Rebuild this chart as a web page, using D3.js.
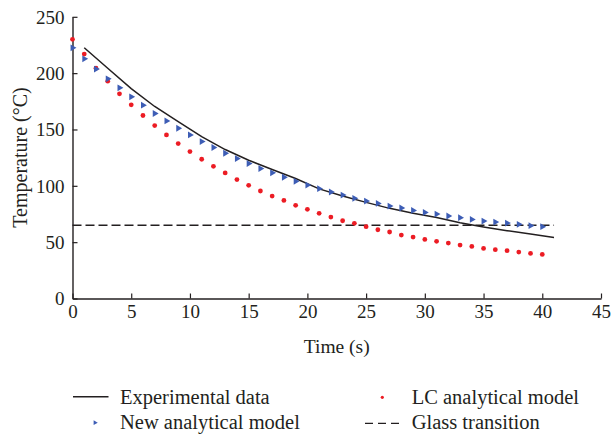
<!DOCTYPE html>
<html><head><meta charset="utf-8">
<script src="https://cdn.jsdelivr.net/npm/d3@7"></script>
<style>
html,body{margin:0;padding:0;background:#fff;}
svg text{font-family:"Liberation Serif","Tinos","DejaVu Serif",serif !important;fill:#231f20;}
</style></head>
<body><svg id="c" width="612" height="437"></svg>
<script>
// ---- data ----
const modelTime = d3.range(0, 41); // 0..40 s
const lcModel = [230,216.9,204.4,192.9,181.6,171.9,162.4,153.5,145.2,137.5,130.4,123.6,117.3,111.4,105.5,100.4,95.4,90.9,87,82.7,79.1,75.6,72.3,69,66.7,63.7,61,59,56.3,54.5,52.4,50.7,49.2,47.4,46.2,44.4,43.3,42.4,41.2,40,39.1];
const newModel = [222.5,212.7,203.6,195,187,179,171.6,164.2,157.6,151.1,145.2,139.3,134,128.9,124.2,119.7,115.3,111.5,107.6,104,100.7,97.5,94.5,91.8,88.9,86.5,84.4,82,80.3,78.2,76.4,74.9,73.2,71.7,70.2,68.7,67.8,66.9,65.8,64.6,63.7];
const expTime = [1,3,5,7,9,11,13,15,17,19,21,23,25,27,29,31,33,35,37,39,41];
const expData = [222.5,204.3,186.3,170.4,157,143.6,132.2,122.7,114.5,106.5,97.3,91,85.3,80,75.6,71.9,67.2,63.5,60.2,57.2,54.2];
const glassTime = [0,41];
const glassTemp = [65,65];
const xTicks = [0,5,10,15,20,25,30,35,40,45];
const yTicks = [0,50,100,150,200,250];
const xTitle = "Time (s)";
const yTitle = "Temperature (\u00B0C)";
const legendLabels = ["Experimental data","New analytical model","LC analytical model","Glass transition"];

const RED = "#ec1c24", BLUE = "#3d5db5";
const FONT = "'Liberation Serif','Tinos','DejaVu Serif',serif";
const svg = d3.select("#c");
const x = d3.scaleLinear().domain([0,45]).range([72.5,601]);
const y = d3.scaleLinear().domain([0,250]).range([298.5,16.8]);

// axes
const gx = svg.append("g").attr("transform",`translate(0,${y(0)})`)
  .call(d3.axisBottom(x).tickValues(xTicks).tickSizeInner(-5).tickSizeOuter(0).tickPadding(7));
const gy = svg.append("g").attr("transform",`translate(${x(0)},0)`)
  .call(d3.axisLeft(y).tickValues(yTicks).tickSizeInner(-5).tickSizeOuter(0).tickPadding(8));
[gx,gy].forEach(g=>{
  g.attr("font-family",FONT);
  g.select(".domain").attr("stroke","#231f20").attr("stroke-width",1.4);
  g.selectAll(".tick line").attr("stroke","#231f20").attr("stroke-width",1.2);
  g.selectAll(".tick text").attr("font-size",19).attr("fill","#231f20");
});
gy.selectAll(".tick text").attr("dy","0.34em");
gx.selectAll(".tick text").attr("dy","0.68em");

// titles
svg.append("text").attr("x",(x(0)+x(45))/2).attr("y",353).attr("text-anchor","middle")
  .attr("font-family",FONT).attr("font-size",19.5).text(xTitle);
svg.append("text").attr("transform","translate(27,157.5) rotate(-90)").attr("text-anchor","middle")
  .attr("font-family",FONT).attr("font-size",20).text(yTitle);

// glass transition
svg.append("path").datum(glassTime.map((t,i)=>[t,glassTemp[i]]))
  .attr("d",d3.line().x(d=>x(d[0])).y(d=>y(d[1])))
  .attr("fill","none").attr("stroke","#231f20").attr("stroke-width",1.3).attr("stroke-dasharray","9,4");

// experimental line
svg.append("path").datum(expTime.map((t,i)=>[t,expData[i]]))
  .attr("d",d3.line().x(d=>x(d[0])).y(d=>y(d[1])))
  .attr("fill","none").attr("stroke","#231f20").attr("stroke-width",1.5);

// LC model (red dots)
svg.append("g").selectAll("circle").data(modelTime.map((t,i)=>[t,lcModel[i]])).join("circle")
  .attr("cx",d=>x(d[0])).attr("cy",d=>y(d[1])).attr("r",2.4).attr("fill",RED);

// new model (blue right triangles)
const tri = d3.symbol().type(d3.symbolTriangle).size(20);
svg.append("g").selectAll("path").data(modelTime.map((t,i)=>[t,newModel[i]])).join("path")
  .attr("d",tri).attr("transform",d=>`translate(${x(d[0])},${y(d[1])}) rotate(90)`).attr("fill",BLUE);

// legend
const lg = svg.append("g");
lg.append("line").attr("x1",73).attr("x2",108.5).attr("y1",396.7).attr("y2",396.7)
  .attr("stroke","#231f20").attr("stroke-width",1.4);
lg.append("path").attr("d",d3.symbol().type(d3.symbolTriangle).size(10))
  .attr("transform","translate(95,422.7) rotate(90)").attr("fill",BLUE);
lg.append("circle").attr("cx",382.3).attr("cy",397.3).attr("r",1.6).attr("fill",RED);
lg.append("line").attr("x1",365).attr("x2",399.5).attr("y1",423.3).attr("y2",423.3)
  .attr("stroke","#231f20").attr("stroke-width",1.3).attr("stroke-dasharray","8,5");
const lpos = [[120,404],[120,429],[411.7,404],[411.7,429]];
legendLabels.forEach((s,i)=>{
  lg.append("text").attr("x",lpos[i][0]).attr("y",lpos[i][1])
    .attr("font-family",FONT).attr("font-size",20.5).text(s);
});
</script></body></html>
